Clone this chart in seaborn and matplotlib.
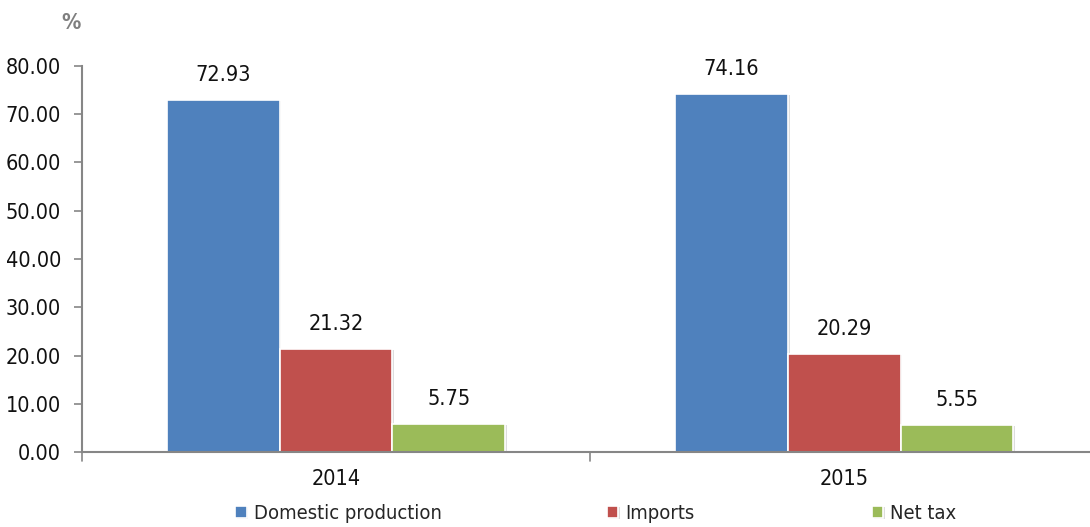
import matplotlib
matplotlib.use("Agg")
import matplotlib.pyplot as plt
import matplotlib.patheffects as pe
import seaborn as sns
import pandas as pd

years = ["2014", "2015"]
components = ["Domestic production", "Imports", "Net tax"]
domestic = [72.93, 74.16]
imports = [21.32, 20.29]
net_tax = [5.75, 5.55]
y_ticks = [0, 10, 20, 30, 40, 50, 60, 70, 80]

colors = ["#4F81BD", "#C0504D", "#9BBB59"]

df = pd.DataFrame({
    "year": years * 3,
    "component": [c for c in components for _ in years],
    "share": domestic + imports + net_tax,
})

sns.set_theme(style="white")
plt.rcParams["font.family"] = ["Liberation Sans Narrow", "DejaVu Sans"]
plt.rcParams["font.stretch"] = "condensed"

FS = 15.5
FS_LEG = 14.5
fig = plt.figure(figsize=(10.9, 5.27), dpi=100)
ax = fig.add_axes([0.0752, 0.1423, 0.9325, 0.7325])

sns.barplot(data=df, x="year", y="share", hue="component", order=years,
            hue_order=components, palette=colors, width=0.665,
            edgecolor="white", linewidth=1.2, saturation=1, ax=ax, legend=True)

shadow = [pe.SimplePatchShadow(offset=(1.2, -0.8), shadow_rgbFace="#a0a0a0", alpha=0.35),
          pe.Normal()]
for patch in ax.patches:
    patch.set_path_effects(shadow)

for cont in ax.containers:
    ax.bar_label(cont, fmt="%.2f", padding=11, fontsize=FS, color="#111111")

ax.set_xlim(-0.5, 1.5)
ax.set_ylim(0, 80)
ax.set_yticks(y_ticks)
ax.set_yticklabels([f"{v:.2f}" for v in y_ticks], fontsize=FS, color="#111111")
ax.set_xticks([0, 1])
ax.set_xticklabels(years, fontsize=FS, color="#111111")
ax.tick_params(axis="x", length=0, pad=12)
ax.tick_params(axis="y", length=6, width=1.2, color="#868686", left=True, pad=9)
for x in [-0.5, 0.5, 1.5]:
    ax.plot([x, x], [0, -1.8], color="#868686", lw=1.2, clip_on=False)

for side in ["top", "right"]:
    ax.spines[side].set_visible(False)
for side in ["left", "bottom"]:
    ax.spines[side].set_color("#868686")
    ax.spines[side].set_linewidth(1.5)
ax.set_xlabel("")
ax.set_ylabel("")

fig.text(0.065, 0.957, "%", fontsize=FS, color="#7f7f7f", fontweight="bold",
         ha="center", va="center")

# one legend entry per slot along the bottom edge
handles, labels = ax.get_legend_handles_labels()
ax.get_legend().remove()
slots = [0.216, 0.557, 0.800]
for h, lab, x0 in zip(handles, labels, slots):
    fig.legend([h], [lab], loc="center left", bbox_to_anchor=(x0, 0.025),
               frameon=False, fontsize=FS_LEG, handlelength=0.55, handleheight=0.55,
               handletextpad=0.35, borderaxespad=0, borderpad=0)

fig.savefig("out.png", dpi=100)
